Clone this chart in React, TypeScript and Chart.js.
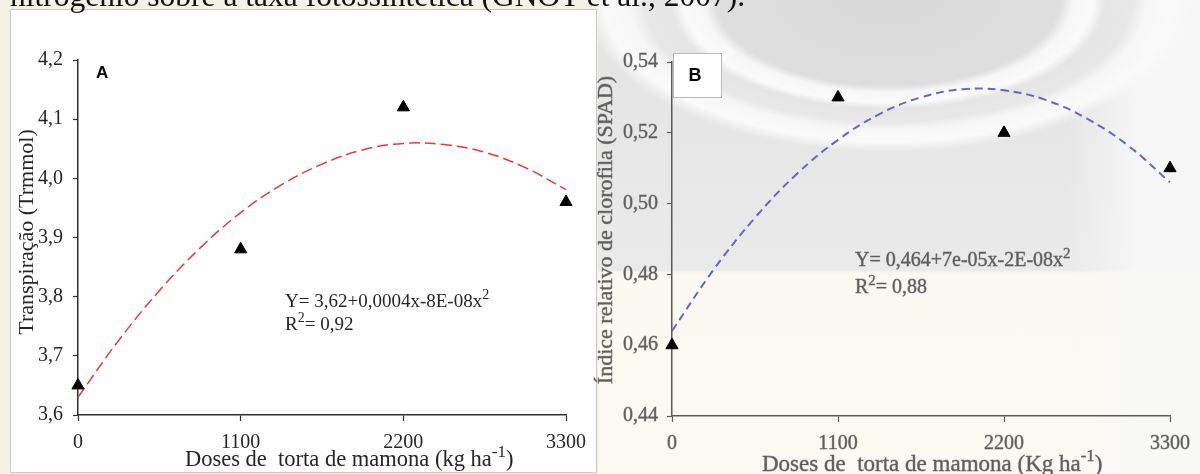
import React, { useEffect, useRef } from 'react';
import { Chart, registerables } from 'chart.js';

Chart.register(...registerables);

const HEADER = 'nitrogênio sobre a taxa fotossintética (GNOT et al., 2007).';

const doses = [0, 1100, 2200, 3300];
const transpiracao = [3.65, 3.88, 4.12, 3.96];
const clorofila = [0.46, 0.53, 0.52, 0.51];

const curveDoses = [0, 275, 550, 825, 1100, 1375, 1650, 1925, 2200, 2475, 2750, 3025, 3300];
const curveTranspiracao = [3.63, 3.726, 3.81, 3.882, 3.942, 3.989, 4.024, 4.048, 4.059, 4.057, 4.044, 4.018, 3.981];
const curveClorofila = [0.464, 0.4813, 0.496, 0.5083, 0.518, 0.5253, 0.53, 0.5323, 0.532, 0.5293, 0.524, 0.5163, 0.506];

const xTickValues = [0, 1100, 2200, 3300];
const yTicksA = [3.6, 3.7, 3.8, 3.9, 4.0, 4.1, 4.2];
const yTicksB = [0.44, 0.46, 0.48, 0.5, 0.52, 0.54];

const titleYA = 'Transpiração (Trmmol)';
const titleYB = 'Índice relativo de clorofila (SPAD)';
const titleXA = ['Doses de  torta de mamona (kg ha', '-1', ')'];
const titleXB = ['Doses de  torta de mamona (Kg ha', '-1', ')'];
const eqA = ['Y= 3,62+0,0004x-8E-08x', '2'];
const r2A = ['R', '2', '= 0,92'];
const eqB = ['Y= 0,464+7e-05x-2E-08x', '2'];
const r2B = ['R', '2', '= 0,88'];

const SERIF = '"Liberation Serif", "Times New Roman", serif';
const SANS = '"Liberation Sans", Arial, sans-serif';

type Part = { t: string; sup?: boolean };
type TextItem = {
  parts: Part[];
  x: number;
  y: number;
  size: number;
  family: string;
  color: string;
  weight?: string;
  rotate?: boolean;
  align?: 'left' | 'center';
  baseline?: CanvasTextBaseline;
  stroke?: string;
  strokeWidth?: number;
};

const withSup = (arr: string[], supIdx: number[]): Part[] =>
  arr.map((t, i) => ({ t, sup: supIdx.includes(i) }));

const textPlugin = {
  id: 'panelTexts',
  afterDraw(chart: any, _args: any, opts: any) {
    const ctx: CanvasRenderingContext2D = chart.ctx;
    if (opts.box) {
      const b = opts.box;
      ctx.save();
      ctx.fillStyle = '#ffffff';
      ctx.fillRect(b.x, b.y, b.w, b.h);
      ctx.strokeStyle = '#b8b8b8';
      ctx.lineWidth = 1;
      ctx.strokeRect(b.x + 0.5, b.y + 0.5, b.w - 1, b.h - 1);
      ctx.restore();
    }
    for (const it of (opts.items || []) as TextItem[]) {
      ctx.save();
      ctx.translate(it.x, it.y);
      if (it.rotate) ctx.rotate(-Math.PI / 2);
      const fontFor = (p: Part) =>
        `${it.weight || 'normal'} ${p.sup ? Math.round(it.size * 0.75) : it.size}px ${it.family}`;
      let total = 0;
      for (const p of it.parts) {
        ctx.font = fontFor(p);
        total += ctx.measureText(p.t).width;
      }
      let x = it.align === 'center' ? -total / 2 : 0;
      ctx.textBaseline = it.baseline || 'alphabetic';
      ctx.textAlign = 'left';
      for (const p of it.parts) {
        ctx.font = fontFor(p);
        const dy = p.sup ? -it.size * 0.42 : 0;
        if (it.stroke) {
          ctx.strokeStyle = it.stroke;
          ctx.lineWidth = it.strokeWidth || 1;
          ctx.lineJoin = 'round';
          ctx.strokeText(p.t, x, dy);
        }
        ctx.fillStyle = it.color;
        ctx.fillText(p.t, x, dy);
        x += ctx.measureText(p.t).width;
      }
      ctx.restore();
    }
  },
};

type Spec = {
  ys: number[];
  curve: number[];
  yTicks: number[];
  dec: number;
  curveColor: string;
  curveWidth: number;
  dash: number[];
  axisColor: string;
  tickColor: string;
  tickStroke?: string;
  tickStrokeWidth?: number;
  yAxisWidth: number;
  xAxisHeight: number;
  padTop: number;
  padRight: number;
  yTickPad: number;
  xTickPad: number;
  items: TextItem[];
  box?: { x: number; y: number; w: number; h: number };
};

function buildConfig(spec: Spec): any {
  const yMin = spec.yTicks[0];
  const yMax = spec.yTicks[spec.yTicks.length - 1];
  const tickFont = { family: SERIF, size: 20 };
  return {
    type: 'scatter',
    data: {
      datasets: [
        {
          data: doses.map((x, i) => ({ x, y: spec.ys[i] })),
          pointStyle: 'triangle',
          pointRadius: 7,
          backgroundColor: '#000',
          borderColor: '#000',
          borderWidth: 1,
          showLine: false,
          clip: false,
        },
        {
          data: curveDoses.map((x, i) => ({ x, y: spec.curve[i] })),
          showLine: true,
          pointRadius: 0,
          borderColor: spec.curveColor,
          borderWidth: spec.curveWidth,
          borderDash: spec.dash,
          tension: 0.4,
          fill: false,
          clip: false,
        },
      ],
    },
    options: {
      responsive: false,
      animation: false,
      events: [],
      layout: { padding: { left: 0, top: spec.padTop, right: spec.padRight, bottom: 0 } },
      plugins: {
        legend: { display: false },
        tooltip: { enabled: false },
        panelTexts: { items: spec.items, box: spec.box },
      },
      scales: {
        x: {
          type: 'linear',
          min: 0,
          max: 3300,
          afterBuildTicks: (s: any) => {
            s.ticks = xTickValues.map((v) => ({ value: v }));
          },
          afterFit: (s: any) => {
            s.height = spec.xAxisHeight;
          },
          ticks: {
            callback: (v: any) => String(v),
            font: tickFont,
            color: spec.tickColor,
            textStrokeColor: spec.tickStroke,
            textStrokeWidth: spec.tickStrokeWidth || 0,
            padding: spec.xTickPad,
            maxRotation: 0,
            autoSkip: false,
          },
          grid: {
            display: true,
            drawOnChartArea: false,
            drawTicks: true,
            tickLength: 6,
            color: spec.axisColor,
            tickColor: spec.axisColor,
            tickWidth: 1.2,
          },
          border: { display: true, color: spec.axisColor, width: 1.5 },
        },
        y: {
          type: 'linear',
          min: yMin,
          max: yMax,
          afterBuildTicks: (s: any) => {
            s.ticks = spec.yTicks.map((v) => ({ value: v }));
          },
          afterFit: (s: any) => {
            s.width = spec.yAxisWidth;
          },
          ticks: {
            callback: (v: any) => Number(v).toFixed(spec.dec).replace('.', ','),
            font: tickFont,
            color: spec.tickColor,
            textStrokeColor: spec.tickStroke,
            textStrokeWidth: spec.tickStrokeWidth || 0,
            padding: spec.yTickPad,
            autoSkip: false,
          },
          grid: {
            display: true,
            drawOnChartArea: false,
            drawTicks: true,
            tickLength: 5,
            color: spec.axisColor,
            tickColor: spec.axisColor,
            tickWidth: 1.2,
          },
          border: { display: true, color: spec.axisColor, width: 1.5 },
        },
      },
    },
    plugins: [textPlugin],
  };
}

const colA = '#262626';
const fillB = '#5e5e5e';
const strokeB = 'rgba(70,70,70,0.45)';

const specA: Spec = {
  ys: transpiracao,
  curve: curveTranspiracao,
  yTicks: yTicksA,
  dec: 1,
  curveColor: '#e33b3b',
  curveWidth: 1.5,
  dash: [11, 5],
  axisColor: '#2e2e2e',
  tickColor: colA,
  yAxisWidth: 67,
  xAxisHeight: 57,
  padTop: 50,
  padRight: 26,
  yTickPad: 10,
  xTickPad: 10,
  items: [
    { parts: [{ t: 'A' }], x: 85, y: 68, size: 17, family: SANS, weight: 'bold', color: '#000' },
    { parts: [{ t: titleYA }], x: 16, y: 222, size: 22, family: SERIF, color: colA, rotate: true, align: 'center', baseline: 'middle' },
    { parts: withSup(titleXA, [1]), x: 174, y: 456, size: 22.5, family: SERIF, color: colA },
    { parts: withSup(eqA, [1]), x: 274, y: 297, size: 19, family: SERIF, color: colA },
    { parts: withSup(r2A, [1]), x: 274, y: 320, size: 19, family: SERIF, color: colA },
  ],
};

const specB: Spec = {
  ys: clorofila,
  curve: curveClorofila,
  yTicks: yTicksB,
  dec: 2,
  curveColor: '#6464cf',
  curveWidth: 2,
  dash: [8, 5],
  axisColor: '#5a5a5a',
  tickColor: fillB,
  tickStroke: strokeB,
  tickStrokeWidth: 0.8,
  yAxisWidth: 82,
  xAxisHeight: 58,
  padTop: 62,
  padRight: 26,
  yTickPad: 9,
  xTickPad: 10,
  box: { x: 83, y: 53, w: 49, h: 45 },
  items: [
    { parts: [{ t: 'B' }], x: 105, y: 76, size: 18, family: SANS, weight: 'bold', color: '#000', align: 'center', baseline: 'middle' },
    { parts: [{ t: titleYB }], x: 16, y: 230, size: 22, family: SERIF, color: fillB, stroke: strokeB, strokeWidth: 0.8, rotate: true, align: 'center', baseline: 'middle' },
    { parts: withSup(titleXB, [1]), x: 172, y: 471, size: 23, family: SERIF, color: fillB, stroke: strokeB, strokeWidth: 0.8 },
    { parts: withSup(eqB, [1]), x: 265, y: 266, size: 20, family: SERIF, color: fillB, stroke: strokeB, strokeWidth: 0.8 },
    { parts: withSup(r2B, [1]), x: 265, y: 293, size: 20, family: SERIF, color: fillB, stroke: strokeB, strokeWidth: 0.8 },
  ],
};

function ChartCanvas(props: { spec: Spec; left: number; top: number; width: number; height: number }) {
  const ref = useRef<HTMLCanvasElement | null>(null);
  useEffect(() => {
    if (!ref.current) return;
    const chart = new Chart(ref.current, buildConfig(props.spec));
    return () => chart.destroy();
  }, []);
  return (
    <canvas
      ref={ref}
      width={props.width}
      height={props.height}
      style={{ position: 'absolute', left: props.left, top: props.top, width: props.width, height: props.height }}
    />
  );
}

export default function App() {
  const bgB = [
    'radial-gradient(ellipse 330px 165px at 290px 0px, #d9d9d9 0%, #dedede 52%, #f7f7f7 56%, #fbfbfb 62%, #e5e5e5 66%, #e8e8e8 74%, #f6f6f6 78%, #fafafa 86%, rgba(250,250,250,0) 92%)',
    'linear-gradient(to right, rgba(250,250,250,0) 0px, rgba(250,250,250,0) 470px, rgba(248,248,248,0.9) 540px)',
    'linear-gradient(to bottom, #e3e3e3 0px, #eaeaea 270px, #faf8f0 273px, #fbf9f2 474px)',
  ].join(', ');
  return (
    <div
      style={{
        position: 'absolute',
        left: 0,
        top: 0,
        width: 1200,
        height: 474,
        overflow: 'hidden',
        background: '#f4f1e5',
      }}
    >
      <div style={{ position: 'absolute', left: 598, top: 0, width: 602, height: 474, background: bgB }} />
      <div
        style={{
          position: 'absolute',
          left: 10,
          top: 9,
          width: 587,
          height: 464,
          boxSizing: 'border-box',
          border: '1px solid #c9c9c9',
          background: '#fefefe',
        }}
      />
      <ChartCanvas spec={specA} left={11} top={10} width={585} height={462} />
      <ChartCanvas spec={specB} left={590} top={0} width={610} height={474} />
      <div
        style={{
          position: 'absolute',
          left: 10,
          top: -20,
          fontFamily: SERIF,
          fontSize: 31.5,
          lineHeight: '31.5px',
          whiteSpace: 'nowrap',
          color: '#111',
        }}
      >
        {HEADER}
      </div>
    </div>
  );
}
